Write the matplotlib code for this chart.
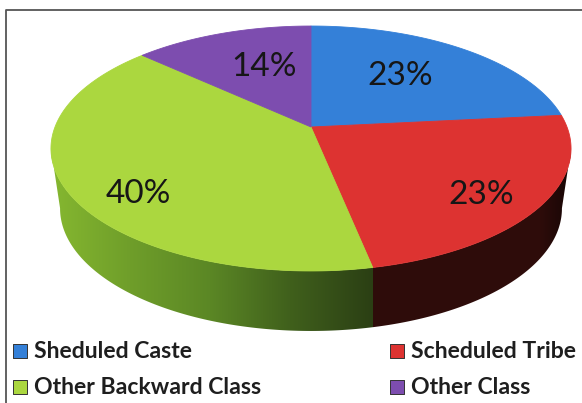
import numpy as np
import matplotlib
matplotlib.use("Agg")
import matplotlib.pyplot as plt
from matplotlib.colors import to_rgb
from matplotlib.patches import Polygon

# Chart data
categories = ["Sheduled Caste", "Scheduled Tribe", "Other Backward Class", "Other Class"]
pct_labels = ["23%", "23%", "40%", "14%"]
# slice sizes as drawn in the picture (the labels are rounded)
shares = [23.4, 23.4, 40.0, 13.2]
colors = ["#3480D8", "#DD3331", "#ABD73F", "#7D4DAF"]

# Layout, in image pixels
W, H = 582, 403
cx, cy = 311, 127      # where the slices meet
sx, sy = 256, 118.7    # pie size
k = 0.1755             # perspective of the tilted disc
depth = 60
label_pos = [(400, 76), (481, 195), (138, 194), (264, 67)]
legend_pos = [(14, 351), (391, 351), (14, 387), (391, 387)]


def project(theta, scale=1.0, drop=0.0):
    # theta in degrees, clockwise from the top of the disc
    t = np.radians(theta)
    x, y = np.sin(t), np.cos(t)
    d = 1 + k * y
    return cx + scale * sx * x / d, cy + drop - sy * y / d


fig = plt.figure(figsize=(W / 100, H / 100), dpi=100)
ax = fig.add_axes([0, 0, 1, 1])
ax.set_xlim(0, W)
ax.set_ylim(H, 0)
ax.axis("off")

edges = np.cumsum([0] + shares) / sum(shares) * 360

# side wall: lower half of the top rim down to the lower rim
theta = np.linspace(0, 360, 721)
rim_x, rim_y = project(theta)
right = theta[np.argmax(rim_x)]
left = theta[np.argmin(rim_x)]
arc = np.linspace(right, left, 300)
top_x, top_y = project(arc)
low_x, low_y = project(arc, 0.965, depth)
wall = Polygon(np.r_[np.c_[top_x, top_y], np.c_[low_x, low_y][::-1]], closed=True,
               facecolor="none", edgecolor="none", transform=ax.transData)
ax.add_patch(wall)

# horizontal shading of the wall, green part then dark red part
split_x = project(edges[2])[0]
columns = np.arange(W) + 0.5
stops_x = [50, 130, 210, 290, split_x, split_x + 0.5, 540, 575]
stops_c = ["#86B830", "#6F9E2A", "#5B8725", "#40601C", "#2B3F14", "#2E0C0A", "#2E0C0A", "#140504"]
stops_rgb = np.array([to_rgb(c) for c in stops_c])
shade = np.stack([np.interp(columns, stops_x, stops_rgb[:, i]) for i in range(3)], axis=1)
img = ax.imshow(shade[np.newaxis, :, :], extent=(0, W, H, 0), aspect="auto", zorder=1)
img.set_clip_path(wall)
ax.set_xlim(0, W)
ax.set_ylim(H, 0)

# top face
for i in range(len(shares)):
    a = np.linspace(edges[i], edges[i + 1], 200)
    x, y = project(a)
    ax.fill(np.r_[cx, x], np.r_[cy, y], color=colors[i], lw=0.6, zorder=2)
    ax.text(label_pos[i][0], label_pos[i][1], pct_labels[i], family="Lato", fontsize=24,
            color="#161616", ha="center", va="center", zorder=3)

# legend
for i in range(len(categories)):
    lx, ly = legend_pos[i]
    ax.scatter([lx + 6], [ly], marker="s", s=95, color=colors[i], edgecolors="#333333",
               linewidths=0.7, zorder=3)
    ax.text(lx + 20, ly, categories[i], family="Lato", weight="bold", fontsize=16.6,
            color="#1E1E1E", ha="left", va="center", zorder=3)

# picture frame, left and top only
ax.plot([6, 6, W], [H, 10, 10], color="#555555", lw=1.3, zorder=4)

fig.savefig("out.png", dpi=100)
